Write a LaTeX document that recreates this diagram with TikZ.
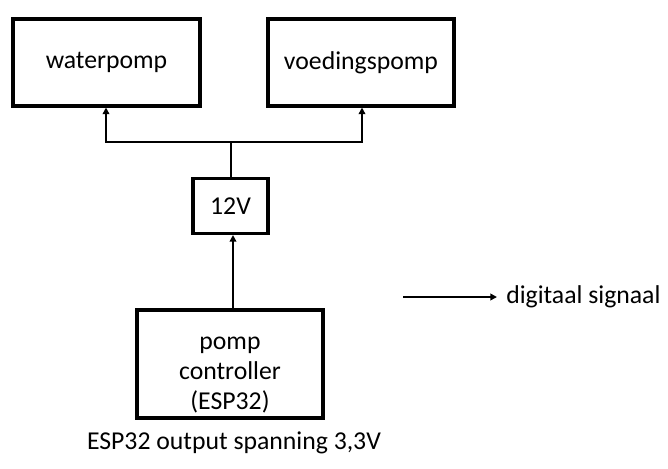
\documentclass[tikz,border=0pt]{standalone}
\usepackage{fontspec}
\setmainfont{Carlito}
\usetikzlibrary{arrows.meta}
\begin{document}
\begin{tikzpicture}[x=0.75pt,y=-0.75pt,
  box/.style={draw,line width=2.3pt,inner sep=0pt,font=\fontsize{19.3}{21.8}\selectfont},
  conn/.style={line width=1.5pt,-{Triangle[length=5pt,width=5pt]}},
  lbl/.style={font=\fontsize{19.3}{22}\selectfont,inner sep=0pt}]
\useasboundingbox (0,0) rectangle (668,468);
\node[box,minimum width=187*0.75pt,minimum height=87*0.75pt] (wp) at (106.5,62.5) {waterpomp};
\node[box,minimum width=186*0.75pt,minimum height=87*0.75pt] (vp) at (361,62.5) {\raisebox{1.5pt}{voedingspomp}};
\node[box,minimum width=75*0.75pt,minimum height=55*0.75pt] (v12) at (230.5,206) {12V};
\node[box,minimum width=186*0.75pt,minimum height=108*0.75pt] (ctl) at (230,364) {};
\node[lbl,align=center,font=\fontsize{19.3}{22.8}\selectfont] (ctltxt) at (230,375) {pomp\\controller\\(ESP32)};
\node[lbl] (cap) at (234,443) {ESP32 output spanning 3,3V};
\coordinate (j) at (231,142);
\coordinate (la) at (403,297);
\coordinate (lb) at (497,297);
\node[lbl,anchor=west] (leg) at (506,297) {digitaal signaal};
\draw[line width=1.5pt] (v12.north -| j) -- (j);
\draw[conn] (j) -| (wp.south -| 106,0);
\draw[conn] (j) -| (vp.south -| 362,0);
\draw[conn] (ctl.north -| 233,0) -- (v12.south -| 233,0);
\draw[conn] (la) -- (lb);
\end{tikzpicture}
\end{document}
